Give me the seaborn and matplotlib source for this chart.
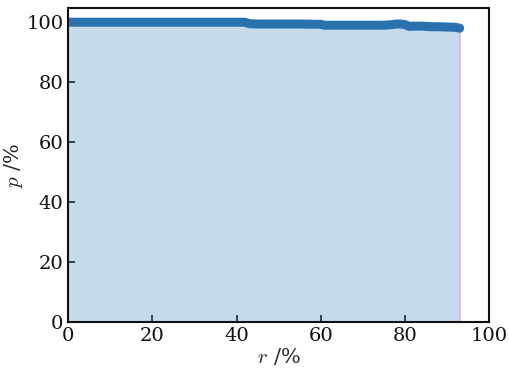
import matplotlib
matplotlib.use("Agg")
import matplotlib.pyplot as plt
import pandas as pd
import seaborn as sns

# precision-recall curve
recall = [0, 5, 10, 15, 20, 25, 30, 35, 40, 42, 43, 45, 50, 55, 60, 61, 65, 70,
          75, 77, 78, 79, 80, 81, 82, 84, 86, 88, 90, 92, 93]
precision = [100, 100, 100, 100, 100, 100, 100, 100, 100, 100, 99.5, 99.4, 99.4,
             99.4, 99.3, 99.0, 99.0, 99.0, 99.0, 99.2, 99.4, 99.4, 99.2, 98.6,
             98.7, 98.7, 98.5, 98.5, 98.4, 98.3, 98.0]
x_ticks = [0, 20, 40, 60, 80, 100]
y_ticks = [0, 20, 40, 60, 80, 100]

df = pd.DataFrame({"recall": recall, "precision": precision})

sns.set_style("ticks")
plt.rcParams["font.family"] = ["DejaVu Serif"]
plt.rcParams["mathtext.fontset"] = "cm"

fig, ax = plt.subplots(figsize=(5.09, 3.70), dpi=100)
fig.subplots_adjust(left=0.134, right=0.961, top=0.978, bottom=0.130)

ax.fill_between(df["recall"], df["precision"], color="#1f77b4", alpha=0.26, linewidth=0)
ax.vlines(df["recall"].iloc[-1], 0, df["precision"].iloc[-1], color="#e8b4c4", linewidth=1.2)
sns.lineplot(data=df, x="recall", y="precision", ax=ax, color="#2a72ad",
             linewidth=6.5, solid_capstyle="round", solid_joinstyle="round")

ax.set_xlim(0, 100)
ax.set_ylim(0, 104.7)
ax.set_xticks(x_ticks)
ax.set_yticks(y_ticks)
ax.tick_params(direction="in", length=5, width=1.2, labelsize=14, colors="#111111")
for s in ax.spines.values():
    s.set_linewidth(1.5)
    s.set_color("#111111")
ax.set_xlabel(r"$r$ /%", fontsize=15, labelpad=1)
ax.set_ylabel(r"$p$ /%", fontsize=15, labelpad=1)

fig.savefig("out.png", dpi=100)
plt.close(fig)
